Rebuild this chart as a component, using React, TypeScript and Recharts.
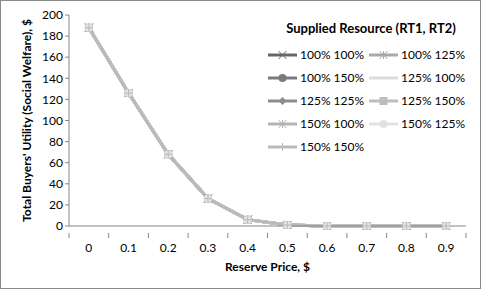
import { Line, LineChart, XAxis, YAxis } from "recharts";

const prices = ["0", "0.1", "0.2", "0.3", "0.4", "0.5", "0.6", "0.7", "0.8", "0.9"];
const welfare = [188, 126, 68, 26, 6, 1, 0, 0, 0, 0];
const yTicks = [0, 20, 40, 60, 80, 100, 120, 140, 160, 180, 200];

const series = [
  { name: "100% 100%", color: "#666666", shape: "x" },
  { name: "100% 125%", color: "#a8a8a8", shape: "star" },
  { name: "100% 150%", color: "#7a7a7a", shape: "circle" },
  { name: "125% 100%", color: "#dcdcdc", shape: "none" },
  { name: "125% 125%", color: "#8c8c8c", shape: "diamond" },
  { name: "125% 150%", color: "#bdbdbd", shape: "square" },
  { name: "150% 100%", color: "#b4b4b4", shape: "star" },
  { name: "150% 125%", color: "#e2e2e2", shape: "circle" },
  { name: "150% 150%", color: "#bababa", shape: "plus" },
];

const data = prices.map((p, i) => {
  const row: Record<string, string | number> = { price: p };
  series.forEach((s) => (row[s.name] = welfare[i]));
  return row;
});

const font = "Lato, 'Open Sans', sans-serif";
const W = 479;
const H = 287;
const M = { top: 14, right: 14, left: 0, bottom: 0 };
const Y_W = 68;
const BAND = (W - M.left - M.right - Y_W) / prices.length;

function Marker({ cx, cy, color, shape, size = 4 }: any) {
  if (cx == null || cy == null || shape === "none") return null;
  const r = size;
  switch (shape) {
    case "x":
      return (
        <g stroke={color} strokeWidth={1}>
          <line x1={cx - r} y1={cy - r} x2={cx + r} y2={cy + r} />
          <line x1={cx - r} y1={cy + r} x2={cx + r} y2={cy - r} />
        </g>
      );
    case "star":
      return (
        <g stroke={color} strokeWidth={1}>
          <line x1={cx - r} y1={cy - r} x2={cx + r} y2={cy + r} />
          <line x1={cx - r} y1={cy + r} x2={cx + r} y2={cy - r} />
          <line x1={cx} y1={cy - r} x2={cx} y2={cy + r} />
        </g>
      );
    case "circle":
      return <circle cx={cx} cy={cy} r={r} fill={color} />;
    case "diamond":
      return <path d={`M${cx},${cy - r}L${cx + r},${cy}L${cx},${cy + r}L${cx - r},${cy}Z`} fill={color} />;
    case "square":
      return <rect x={cx - r} y={cy - r} width={2 * r} height={2 * r} fill={color} />;
    case "plus":
      return (
        <g stroke={color} strokeWidth={1}>
          <line x1={cx - r} y1={cy} x2={cx + r} y2={cy} />
          <line x1={cx} y1={cy - r} x2={cx} y2={cy + r} />
        </g>
      );
  }
  return null;
}

function XTick({ x, y, payload, index }: any) {
  const left = x - BAND / 2;
  return (
    <g>
      <line x1={left} y1={y - 1} x2={left} y2={y + 4} stroke="#868686" />
      {index === prices.length - 1 && (
        <line x1={x + BAND / 2} y1={y - 1} x2={x + BAND / 2} y2={y + 4} stroke="#868686" />
      )}
      <text x={x} y={y + 18} textAnchor="middle" fontSize={12} fontFamily={font} fill="#000">
        {payload.value}
      </text>
    </g>
  );
}

function LegendBox() {
  return (
    <div
      style={{
        position: "absolute",
        top: 19,
        left: 267,
        width: 206,
        fontFamily: font,
        fontSize: 12,
        color: "#000",
      }}
    >
      <div style={{ fontWeight: "bold", fontSize: 13, textAlign: "center", marginBottom: 7 }}>
        Supplied Resource (RT1, RT2)
      </div>
      <div style={{ display: "flex", flexWrap: "wrap" }}>
        {series.map((s) => (
          <div key={s.name} style={{ width: 101, height: 23, display: "flex", alignItems: "center" }}>
            <svg width={29} height={12}>
              <line x1={0} y1={6} x2={29} y2={6} stroke={s.color} strokeWidth={3} />
              <Marker cx={14.5} cy={6} color={s.color} shape={s.shape} size={4} />
            </svg>
            <span style={{ marginLeft: 3 }}>{s.name}</span>
          </div>
        ))}
      </div>
    </div>
  );
}

export default function App() {
  return (
    <div
      style={{
        position: "absolute",
        left: 0,
        top: 0,
        width: W,
        height: H,
        border: "1px solid #8a8a8a",
        background: "#fff",
      }}
    >
      <LineChart width={W} height={H} data={data} margin={M}>
        <XAxis
          dataKey="price"
          scale="band"
          interval={0}
          tickLine={false}
          axisLine={{ stroke: "#868686" }}
          tick={<XTick />}
          height={62}
          label={{
            value: "Reserve Price, $",
            position: "insideBottom",
            offset: 17,
            style: { fontSize: 12, fontWeight: "bold", fill: "#000", fontFamily: font },
          }}
        />
        <YAxis
          domain={[0, 200]}
          ticks={yTicks}
          interval={0}
          width={Y_W}
          tickSize={4}
          tickLine={{ stroke: "#868686" }}
          axisLine={{ stroke: "#868686" }}
          tick={{ fontSize: 12, fill: "#000", fontFamily: font }}
          label={{
            value: "Total Buyers' Utility (Social Welfare), $",
            angle: -90,
            position: "insideLeft",
            offset: 26,
            style: { textAnchor: "middle", fontSize: 12, fontWeight: "bold", fill: "#000", fontFamily: font },
          }}
        />
        {series.map((s) => (
          <Line
            key={s.name}
            dataKey={s.name}
            stroke={s.color}
            strokeWidth={3}
            isAnimationActive={false}
            dot={(p: any) => <Marker key={p.index} cx={p.cx} cy={p.cy} color={s.color} shape={s.shape} />}
            activeDot={false}
          />
        ))}
      </LineChart>
      <LegendBox />
    </div>
  );
}
